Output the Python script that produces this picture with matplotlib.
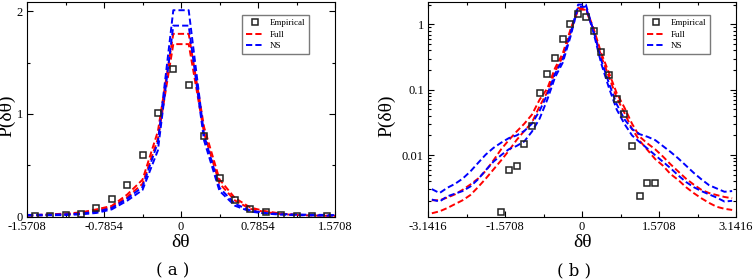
import numpy as np
import matplotlib
matplotlib.use("Agg")
import matplotlib.pyplot as plt
from matplotlib.ticker import FixedLocator, NullFormatter

plt.rcParams['font.family'] = ['Liberation Serif', 'DejaVu Serif']

# bin centres (width pi/20) from -pi to pi
theta = [-3.0631, -2.9060, -2.7489, -2.5918, -2.4347, -2.2777, -2.1206, -1.9635,
         -1.8064, -1.6493, -1.4923, -1.3352, -1.1781, -1.0210, -0.8639, -0.7069,
         -0.5498, -0.3927, -0.2356, -0.0785, 0.0785, 0.2356, 0.3927, 0.5498,
         0.7069, 0.8639, 1.0210, 1.1781, 1.3352, 1.4923, 1.6493, 1.8064,
         1.9635, 2.1206, 2.2777, 2.4347, 2.5918, 2.7489, 2.9060, 3.0631]

# empirical histogram
emp_x = [-1.6493, -1.4923, -1.3352, -1.1781, -1.0210, -0.8639, -0.7069, -0.5498,
         -0.3927, -0.2356, -0.0785, 0.0785, 0.2356, 0.3927, 0.5498, 0.7069,
         0.8639, 1.0210, 1.1781, 1.3352, 1.4923]
emp_y = [0.00135, 0.0060, 0.0068, 0.0146, 0.028, 0.088, 0.177, 0.31,
         0.60, 1.01, 1.44, 1.28, 0.79, 0.38, 0.166, 0.071,
         0.042, 0.0136, 0.00237, 0.0037, 0.0037]

# "Full" model band (upper / lower)
full_hi = [0.00204, 0.00204, 0.00224, 0.00251, 0.00295, 0.00355, 0.00437, 0.00575,
           0.00832, 0.0123, 0.0170, 0.0229, 0.0302, 0.0417, 0.0708, 0.105,
           0.215, 0.36, 0.832, 1.78, 1.78, 0.871, 0.363, 0.182,
           0.0891, 0.0537, 0.0302, 0.0191, 0.0151, 0.0123, 0.00955, 0.00724,
           0.00562, 0.00437, 0.00355, 0.00295, 0.00263, 0.00245, 0.00229, 0.00219]
full_lo = [0.00129, 0.00138, 0.00155, 0.00178, 0.00204, 0.00245, 0.00324, 0.00437,
           0.00603, 0.00832, 0.0117, 0.0170, 0.0234, 0.0316, 0.0562, 0.092,
           0.19, 0.32, 0.759, 1.68, 1.68, 0.813, 0.324, 0.158,
           0.0759, 0.0447, 0.0251, 0.0166, 0.0120, 0.00871, 0.00692, 0.00513,
           0.00417, 0.00324, 0.00263, 0.00219, 0.00186, 0.00162, 0.00151, 0.00145]

# "NS" model band (upper / lower)
ns_hi = [0.00302, 0.00263, 0.00316, 0.00363, 0.00437, 0.00562, 0.00759, 0.0102,
         0.0129, 0.0155, 0.0182, 0.0200, 0.0234, 0.0302, 0.0479, 0.085,
         0.175, 0.29, 0.724, 2.01, 2.01, 0.794, 0.282, 0.126,
         0.0603, 0.0355, 0.0251, 0.0209, 0.0191, 0.0170, 0.0138, 0.0112,
         0.00891, 0.00692, 0.00537, 0.00427, 0.00347, 0.00309, 0.00275, 0.00282]
ns_lo = [0.00209, 0.00195, 0.00234, 0.00257, 0.00282, 0.00331, 0.00427, 0.00589,
         0.00794, 0.0100, 0.0123, 0.0138, 0.0162, 0.0229, 0.0363, 0.071,
         0.155, 0.26, 0.646, 1.86, 1.86, 0.741, 0.251, 0.107,
         0.0501, 0.0302, 0.0200, 0.0158, 0.0126, 0.0100, 0.00794, 0.00631,
         0.00490, 0.00389, 0.00324, 0.00282, 0.00251, 0.00224, 0.00195, 0.00200]

ticks_a = [-1.5708, -0.7854, 0, 0.7854, 1.5708]
tlabels_a = ['-1.5708', '-0.7854', '0', '0.7854', '1.5708']
ticks_b = [-3.1416, -1.5708, 0, 1.5708, 3.1416]
tlabels_b = ['-3.1416', '-1.5708', '0', '1.5708', '3.1416']

RED = '#ff0000'
BLUE = '#0000ff'

fig = plt.figure(figsize=(7.55, 2.79), dpi=100)
ax1 = fig.add_axes([27 / 755, 0.2233, 308 / 755, 0.7695])
ax2 = fig.add_axes([428 / 755, 0.2233, 308 / 755, 0.7695])


def draw(ax):
    ax.plot(theta, full_hi, color=RED, lw=1.4, dashes=(3.2, 1.6), label='Full')
    ax.plot(theta, full_lo, color=RED, lw=1.4, dashes=(3.2, 1.6))
    ax.plot(theta, ns_hi, color=BLUE, lw=1.4, dashes=(3.2, 1.6), label='NS')
    ax.plot(theta, ns_lo, color=BLUE, lw=1.4, dashes=(3.2, 1.6))
    ax.plot(emp_x, emp_y, ls='none', marker='s', ms=4.8, mfc='none', mec='#222222',
            mew=1.1, label='Empirical')
    ax.tick_params(which='both', direction='in', top=True, right=True,
                   labelsize=9, width=0.8, colors='black', pad=3)
    ax.tick_params(which='major', length=4)
    ax.tick_params(which='minor', length=2.5)
    for s in ax.spines.values():
        s.set_linewidth(0.8)
    h, l = ax.get_legend_handles_labels()
    order = [2, 0, 1]
    leg = ax.legend([h[i] for i in order], [l[i] for i in order], loc='upper left',
                    bbox_to_anchor=(0.698, 0.94), borderaxespad=0, fontsize=6.5,
                    frameon=True, fancybox=False, shadow=False, handlelength=1.9,
                    labelspacing=0.35, borderpad=0.45, handletextpad=0.7)
    leg.get_frame().set_edgecolor('0.35')
    leg.get_frame().set_linewidth(1.0)


draw(ax1)
ax1.set_xlim(-1.5708, 1.5708)
ax1.set_ylim(0, 2.09)
ax1.set_xticks(ticks_a, tlabels_a)
ax1.xaxis.set_minor_locator(FixedLocator([-1.1781, -0.3927, 0.3927, 1.1781]))
ax1.set_yticks([0, 1, 2], ['0', '1', '2'])
ax1.yaxis.set_minor_locator(FixedLocator([0.5, 1.5]))

draw(ax2)
ax2.set_yscale('log')
ax2.set_xlim(-3.1416, 3.1416)
ax2.set_ylim(0.001143, 2.2)
ax2.set_xticks(ticks_b, tlabels_b)
ax2.xaxis.set_minor_locator(FixedLocator([-2.3562, -0.7854, 0.7854, 2.3562]))
ax2.set_yticks([0.01, 0.1, 1], ['0.01', '0.1', '1'])
ax2.yaxis.set_minor_locator(FixedLocator(
    [m * d for d in [0.001, 0.01, 0.1, 1] for m in range(2, 10)]))
ax2.yaxis.set_minor_formatter(NullFormatter())

for xc, xs, tag in [(0.0095, 181 / 755, '( a )'), (0.5125, 582 / 755, '( b )')]:
    fig.text(xc, 0.585, 'P(δθ)', rotation=90, ha='center', va='center', fontsize=14)
    fig.text(xs, 0.132, 'δθ', ha='center', va='center', fontsize=14)
    fig.text(xs - 8 / 755, 0.03, tag, ha='center', va='center', fontsize=12,
             family=['DejaVu Serif'])

fig.savefig('out.png', dpi=100)
